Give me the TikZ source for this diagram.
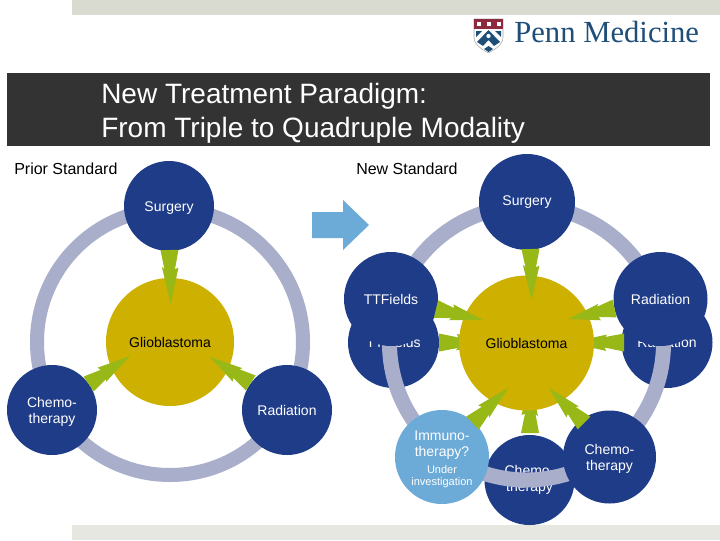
\documentclass[tikz,border=0pt]{standalone}
\usepackage{fontspec}
\setmainfont{Liberation Sans}
\newfontfamily\logofont{Liberation Serif}
\usetikzlibrary{calc}
\definecolor{navyc}{HTML}{1F3C88}
\definecolor{goldc}{HTML}{CDB000}
\definecolor{ringc}{HTML}{A9AFCB}
\definecolor{boltc}{HTML}{97B816}
\definecolor{skyc}{HTML}{6CAAD8}
\definecolor{titlec}{HTML}{333333}
\definecolor{topbarc}{HTML}{D9DBD0}
\definecolor{botbarc}{HTML}{E6E7E0}
\definecolor{pennblue}{HTML}{1F4E79}
\definecolor{pennred}{HTML}{8E2A40}
\newcommand{\liftline}{\rule{0pt}{10.5pt}}
\newcommand{\boltfrom}[2]{%
  \fill[boltc] ($(#1)!9pt*0.75!90:(#2)$)
    -- ($(#1)!0.36!(#2)!5pt*0.75!90:(#2)$)
    -- ($(#1)!0.33!(#2)!8.5pt*0.75!90:(#2)$)
    -- (#2)
    -- ($(#1)!0.31!(#2)!8pt*0.75!-90:(#2)$)
    -- ($(#1)!0.35!(#2)!5.5pt*0.75!-90:(#2)$)
    -- ($(#1)!9pt*0.75!-90:(#2)$) -- cycle;}
\tikzset{
  x=0.75pt, y=-0.75pt,
  disc/.style={circle,inner sep=0pt,align=center,text=white,font=\fontsize{10.5}{12}\selectfont},
  blue r45/.style={disc,fill=navyc,minimum size=67.5pt},
  blue r47/.style={disc,fill=navyc,minimum size=70.5pt},
  gold disc/.style={disc,fill=goldc,text=black},
  ringline/.style={draw=ringc,line width=10.5pt},
  heading/.style={anchor=west,inner sep=0pt,font=\fontsize{12}{14}\selectfont},
  titleline/.style={anchor=west,inner sep=0pt,text=white,font=\fontsize{21}{25}\selectfont},
}
\begin{document}
\begin{tikzpicture}
\useasboundingbox (0,0) rectangle (720,540);
\fill[white] (0,0) rectangle (720,540);
% bars
\fill[topbarc] (72,0) rectangle (720,15);
\fill[botbarc] (72,525) rectangle (720,540);
\fill[titlec] (7,73) rectangle (710,146);
\node[titleline] (t1) at (101,96) {New Treatment Paradigm:};
\node[titleline] (t2) at (101,130) {From Triple to Quadruple Modality};
% logo
\node[anchor=base west,inner sep=0pt,text=pennblue,font=\logofont\fontsize{23}{25}\selectfont] (logo) at (514,42) {Penn Medicine};
\fill[white,draw=black!35,line width=0.4pt] (474,19) -- (503,19) -- (503,37) .. controls (503,46) and (493,50) .. (488.5,53) .. controls (484,50) and (474,46) .. (474,37) -- cycle;
\fill[pennred] (474,19) rectangle (503,29);
\foreach \bx in {477,487,497} \fill[white] (\bx,22) rectangle +(4,4);
\fill[pennblue] (488.5,30) -- (500,42) -- (494,46) -- (488.5,40) -- (483,46) -- (477,42) -- cycle;
\fill[pennblue] (476,31) -- (482,31) -- (476,37) -- cycle;
\fill[pennblue] (501,31) -- (495,31) -- (501,37) -- cycle;
\fill[pennblue] (488.5,46) -- (493,49) -- (488.5,52) -- (484,49) -- cycle;
\fill[white] (488.5,36) circle[radius=1.6pt];
% headings
\node[heading] (prior) at (14,169) {Prior Standard};
\node[heading] (new) at (356,169) {New Standard};
% block arrow
\fill[skyc] (312,212) -- (343,212) -- (343,200) -- (369,225) -- (343,250) -- (343,238) -- (312,238) -- cycle;
% ---- left diagram
\coordinate (lc) at (170,342);
\draw[ringline] (lc) circle[radius=99.75pt];
\node[gold disc,minimum size=96pt] (lgbm) at (lc) {Glioblastoma};
\node[blue r45] (lsurg) at (169,206) {\liftline Surgery};
\node[blue r45] (lchemo) at (52,410) {\liftline Chemo-\\therapy};
\node[blue r45] (lrad) at (287,410) {Radiation};
\coordinate (la1) at (169.5,250); \coordinate (lb1) at (170.7,304);
\coordinate (la2) at (88.7,384);  \coordinate (lb2) at (130,356);
\coordinate (la3) at (250.7,383); \coordinate (lb3) at (210,357);
\boltfrom{la1}{lb1}
\boltfrom{la2}{lb2}
\boltfrom{la3}{lb3}
% ---- right diagram
\coordinate (rc) at (526.5,343);
\node[disc,fill=navyc,minimum size=68.25pt] (rtt2) at (393.5,342.5) {TTFields};
\node[disc,fill=navyc,minimum size=68.25pt] (rrad2) at (667,342.5) {Radiation};
\node[blue r45] (rchemo2) at (529.5,480) {Chemo-\\therapy};
\coordinate (ra1) at (439,342.5);  \coordinate (rb1) at (493,342.5);
\coordinate (ra2) at (624,342.5);  \coordinate (rb2) at (570,342.5);
\coordinate (ra3) at (530,433);    \coordinate (rb3) at (530,379);
\boltfrom{ra1}{rb1}
\boltfrom{ra2}{rb2}
\boltfrom{ra3}{rb3}
\node[gold disc,minimum size=101.25pt] (rgbm) at (rc) {Glioblastoma};
\draw[ringline,line width=11.25pt] (rc) circle[radius=102.75pt];
\node[disc,fill=navyc,minimum size=72pt] (rsurg) at (527,202) {Surgery};
\node[blue r47] (rtt) at (391,299) {TTFields};
\node[blue r47] (rrad) at (660.5,299) {Radiation};
\node[disc,fill=navyc,minimum size=69.75pt] (rchemo) at (609.5,457) {\liftline Chemo-\\therapy};
\node[disc,fill=skyc,minimum size=70.5pt] (rimm) at (442,457) {\liftline Immuno-\\therapy?\\[1pt]{\fontsize{8.25}{9}\selectfont Under}\\[-3pt]{\fontsize{8.25}{9}\selectfont investigation}};
\coordinate (ra4) at (530.5,249);  \coordinate (rb4) at (531.7,300);
\coordinate (ra5) at (436,309);    \coordinate (rb5) at (483,320);
\coordinate (ra6) at (614.5,308.5);\coordinate (rb6) at (567.7,319);
\coordinate (ra7) at (472.5,423);  \coordinate (rb7) at (508,388);
\coordinate (ra8) at (584,423);    \coordinate (rb8) at (549,388);
\boltfrom{ra4}{rb4}
\boltfrom{ra5}{rb5}
\boltfrom{ra6}{rb6}
\boltfrom{ra7}{rb7}
\boltfrom{ra8}{rb8}
\end{tikzpicture}
\end{document}
